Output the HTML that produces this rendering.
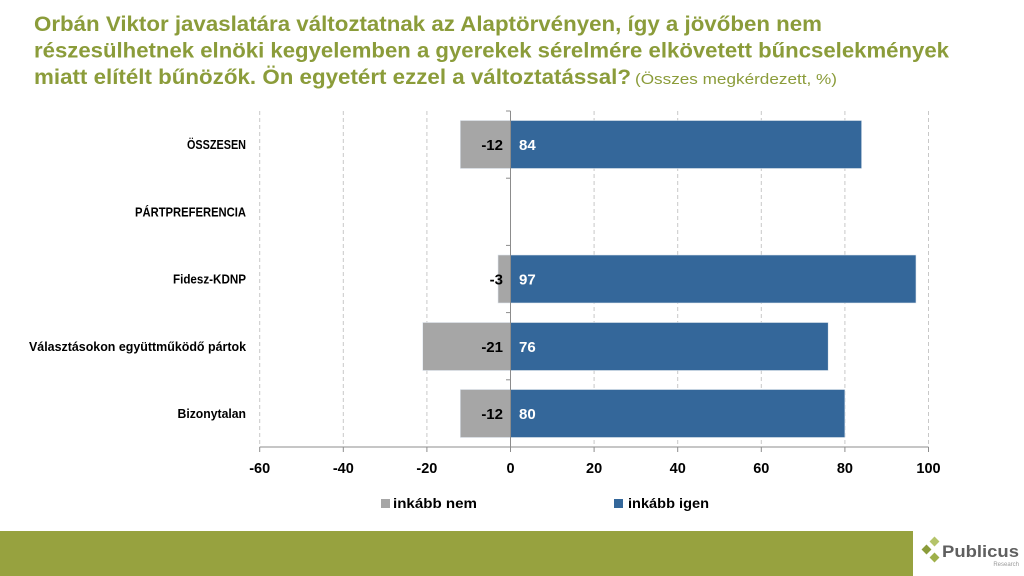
<!DOCTYPE html>
<html><head><meta charset="utf-8"><style>
html,body{margin:0;padding:0;background:#fff;}
svg{display:block;}
text{font-family:"Liberation Sans",Arial,sans-serif;}
</style></head><body>
<svg width="1024" height="576" viewBox="0 0 1024 576" xmlns="http://www.w3.org/2000/svg">
<rect width="1024" height="576" fill="#fff"/>
<!-- Title -->
<g fill="#8b9c3a" font-weight="bold" font-size="21">
<text x="34" y="31" textLength="788" lengthAdjust="spacingAndGlyphs">Orbán Viktor javaslatára változtatnak az Alaptörvényen, így a jövőben nem</text>
<text x="34" y="57.5" textLength="915" lengthAdjust="spacingAndGlyphs">részesülhetnek elnöki kegyelemben a gyerekek sérelmére elkövetett bűncselekmények</text>
<text x="34" y="84" textLength="597" lengthAdjust="spacingAndGlyphs">miatt elítélt bűnözők. Ön egyetért ezzel a változtatással?</text>
</g>
<text x="635" y="84" fill="#8b9c3a" font-size="15" textLength="202" lengthAdjust="spacingAndGlyphs">(Összes megkérdezett, %)</text>

<!-- Gridlines -->
<g stroke="#c8c8c8" stroke-width="1" stroke-dasharray="4,3">
<line x1="259.7" y1="111" x2="259.7" y2="447"/>
<line x1="343.3" y1="111" x2="343.3" y2="447"/>
<line x1="426.9" y1="111" x2="426.9" y2="447"/>
<line x1="594.1" y1="111" x2="594.1" y2="447"/>
<line x1="677.7" y1="111" x2="677.7" y2="447"/>
<line x1="761.3" y1="111" x2="761.3" y2="447"/>
<line x1="844.9" y1="111" x2="844.9" y2="447"/>
<line x1="928.5" y1="111" x2="928.5" y2="447"/>
</g>

<!-- Bars -->
<g stroke="#dfe6ee" stroke-width="0.6">
<rect x="460.3" y="120.5" width="50.2" height="48" fill="#a6a6a6"/>
<rect x="510.5" y="120.5" width="351.1" height="48" fill="#34679a"/>
<rect x="498" y="255" width="12.5" height="48" fill="#a6a6a6"/>
<rect x="510.5" y="255" width="405.5" height="48" fill="#34679a"/>
<rect x="422.7" y="322.5" width="87.8" height="48" fill="#a6a6a6"/>
<rect x="510.5" y="322.5" width="317.7" height="48" fill="#34679a"/>
<rect x="460.3" y="389.5" width="50.2" height="48" fill="#a6a6a6"/>
<rect x="510.5" y="389.5" width="334.4" height="48" fill="#34679a"/>
</g>

<!-- Axes -->
<g stroke="#8c8c8c" stroke-width="1">
<line x1="510.5" y1="111" x2="510.5" y2="447"/>
<line x1="506" y1="111" x2="510.5" y2="111"/>
<line x1="506" y1="178.2" x2="510.5" y2="178.2"/>
<line x1="506" y1="245.4" x2="510.5" y2="245.4"/>
<line x1="506" y1="312.6" x2="510.5" y2="312.6"/>
<line x1="506" y1="379.8" x2="510.5" y2="379.8"/>
<line x1="259.7" y1="447" x2="928.5" y2="447"/>
<line x1="259.7" y1="447" x2="259.7" y2="452"/>
<line x1="343.3" y1="447" x2="343.3" y2="452"/>
<line x1="426.9" y1="447" x2="426.9" y2="452"/>
<line x1="510.5" y1="447" x2="510.5" y2="452"/>
<line x1="594.1" y1="447" x2="594.1" y2="452"/>
<line x1="677.7" y1="447" x2="677.7" y2="452"/>
<line x1="761.3" y1="447" x2="761.3" y2="452"/>
<line x1="844.9" y1="447" x2="844.9" y2="452"/>
<line x1="928.5" y1="447" x2="928.5" y2="452"/>
</g>

<!-- Data labels -->
<g font-weight="bold" font-size="15">
<text x="503" y="150" text-anchor="end" fill="#000">-12</text>
<text x="519" y="150" fill="#fff">84</text>
<text x="503" y="284.5" text-anchor="end" fill="#000">-3</text>
<text x="519" y="284.5" fill="#fff">97</text>
<text x="503" y="352" text-anchor="end" fill="#000">-21</text>
<text x="519" y="352" fill="#fff">76</text>
<text x="503" y="419" text-anchor="end" fill="#000">-12</text>
<text x="519" y="419" fill="#fff">80</text>
</g>

<!-- Category labels -->
<g font-weight="bold" font-size="12.5" fill="#000">
<text x="187" y="149" textLength="59" lengthAdjust="spacingAndGlyphs">ÖSSZESEN</text>
<text x="135" y="216.5" textLength="111" lengthAdjust="spacingAndGlyphs">PÁRTPREFERENCIA</text>
<text x="173" y="283.5" textLength="73" lengthAdjust="spacingAndGlyphs">Fidesz-KDNP</text>
<text x="29" y="351" textLength="217" lengthAdjust="spacingAndGlyphs">Választásokon együttműködő pártok</text>
<text x="177.5" y="418" textLength="68.5" lengthAdjust="spacingAndGlyphs">Bizonytalan</text>
</g>

<!-- Tick labels -->
<g font-weight="bold" font-size="14.5" fill="#000" text-anchor="middle">
<text x="259.7" y="473">-60</text>
<text x="343.3" y="473">-40</text>
<text x="426.9" y="473">-20</text>
<text x="510.5" y="473">0</text>
<text x="594.1" y="473">20</text>
<text x="677.7" y="473">40</text>
<text x="761.3" y="473">60</text>
<text x="844.9" y="473">80</text>
<text x="928.5" y="473">100</text>
</g>

<!-- Legend -->
<rect x="381" y="499" width="9" height="9" fill="#a6a6a6"/>
<text x="393" y="508" font-weight="bold" font-size="14" textLength="84" lengthAdjust="spacingAndGlyphs">inkább nem</text>
<rect x="614" y="499" width="9" height="9" fill="#34679a"/>
<text x="628" y="508" font-weight="bold" font-size="14" textLength="81" lengthAdjust="spacingAndGlyphs">inkább igen</text>

<!-- Bottom bar -->
<rect x="0" y="531" width="913" height="45" fill="#97a23f"/>

<!-- Logo -->
<g>
<rect x="931" y="538" width="7" height="7" fill="#b5c46a" transform="rotate(45 934.5 541.5)"/>
<rect x="923" y="546" width="7" height="7" fill="#8b9c3a" transform="rotate(45 926.5 549.5)"/>
<rect x="931" y="554" width="7" height="7" fill="#9fb04a" transform="rotate(45 934.5 557.5)"/>
</g>
<text x="942" y="557" font-weight="bold" font-size="17" fill="#5f5f5f" textLength="77" lengthAdjust="spacingAndGlyphs">Publicus</text>
<text x="1019" y="566" font-size="6" fill="#9a9a9a" text-anchor="end">Research</text>
</svg>
</body></html>
